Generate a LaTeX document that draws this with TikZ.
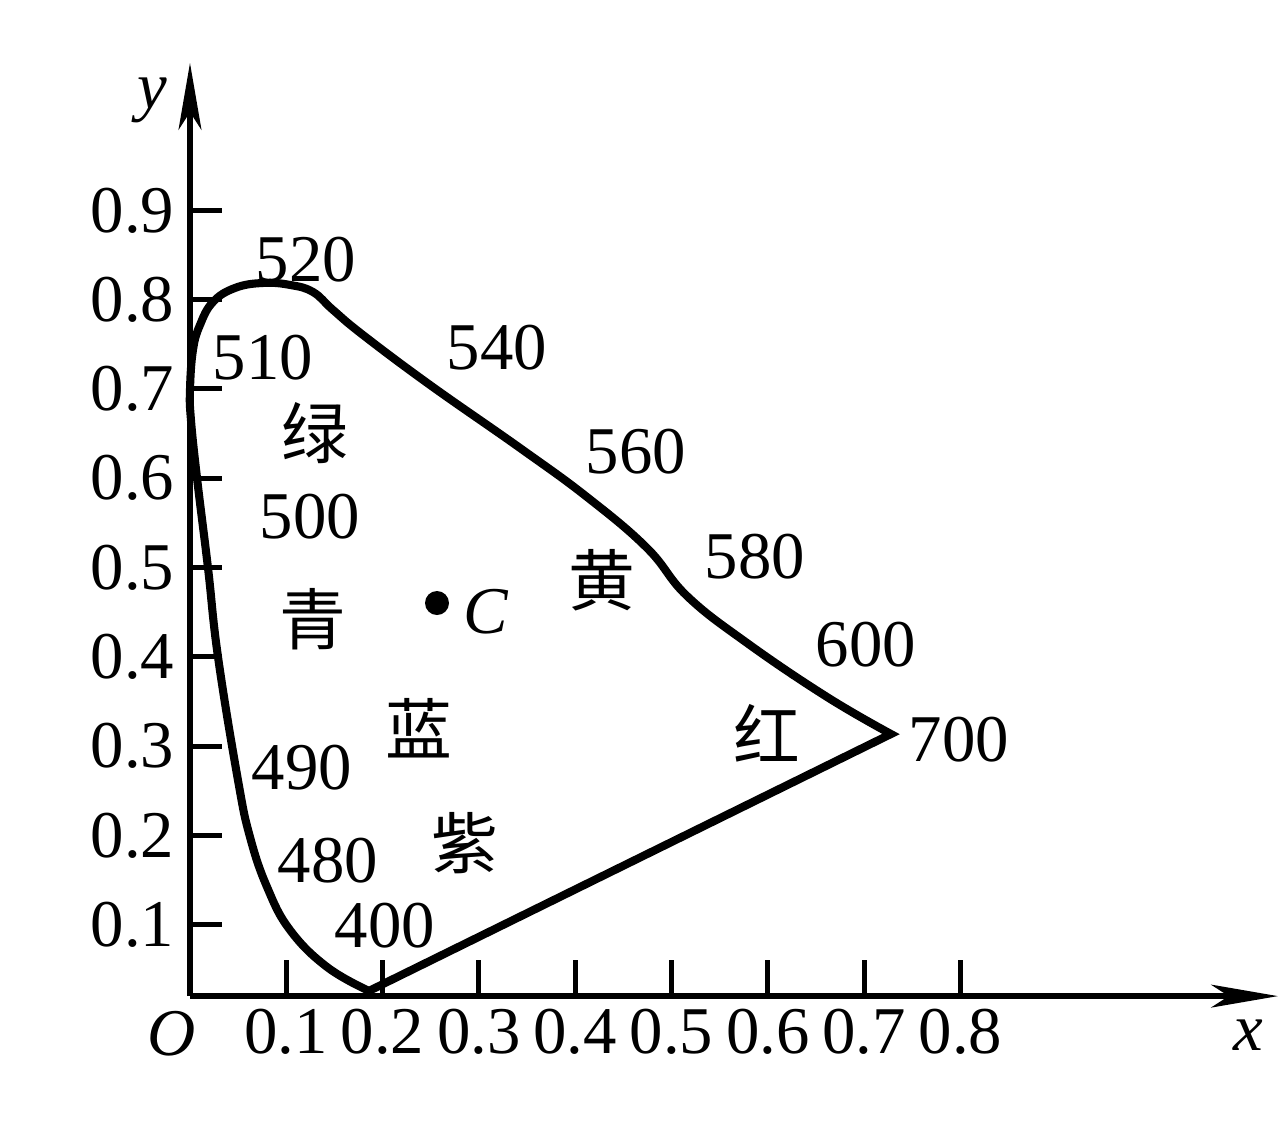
\documentclass[tikz,border=0pt]{standalone}
\usepackage{fontspec}
\setmainfont{Liberation Serif}
\newfontfamily\cjk{Noto Sans CJK SC}
\usepackage{tikz}
\usetikzlibrary{arrows.meta}
\usetikzlibrary{positioning}

\begin{document}
\begin{tikzpicture}[
  x=9.63cm, y=8.93cm,
  font=\fontsize{19}{22}\selectfont,
  axis/.style={line width=1.6pt, -{Stealth[length=19pt, width=6.5pt, inset=5pt]}},
  tck/.style={line width=1.4pt},
  locus/.style={line width=2.3pt, line join=miter},
  wl/.style={inner sep=0pt},
  hue/.style={inner sep=0pt, font=\fontsize{19}{22}\selectfont\cjk},
]

\useasboundingbox (-0.1973,-0.14) rectangle (1.1319,1.1355);

% axes
\draw [axis] (0,0.02) -- (1.1298,0.02);
\draw [axis] (0,0.02) -- (0,1.065);
\node [wl] (xlab) at (1.0987,-0.0235) {\textit{x}};
\node [wl] (ylab) at (-0.0395,1.0235) {\textit{y}};
\node [wl] (olab) at (-0.0187,-0.0224) {\textit{O}};

\foreach \k in {1,...,8} {
  \draw [tck] (\k/10,0.02) -- (\k/10,0.06);
  \node [wl] (xt\k) at (\k/10,-0.0202) {0.\k};
}
\foreach \k in {1,...,9} {
  \draw [tck] (0,\k/10) -- (0.033,\k/10);
  \node [wl, anchor=east] (yt\k) at (-0.0155,\k/10) {0.\k};
}

% spectrum locus
\draw [locus] plot [smooth, tension=0.7] coordinates {
  (0.1859,0.0258) (0.1423,0.0526) (0.1038,0.0941) (0.0800,0.1422)
  (0.0623,0.1982) (0.0498,0.2620) (0.0291,0.3998) (0.0187,0.4994)
  (0.0073,0.6002) (0.0010,0.6652) (0.0000,0.6988) (0.0031,0.7436)
  (0.0104,0.7716) (0.0239,0.7973) (0.0467,0.8130) (0.0758,0.8186)
  (0.1038,0.8164) (0.1277,0.8085) (0.1485,0.7884)
  (0.1796,0.7604) (0.2492,0.7044) (0.3427,0.6338) (0.4123,0.5789)
  (0.4746,0.5218) (0.5161,0.4681) (0.5784,0.4155) (0.6615,0.3550)
  (0.7279,0.3135)
} -- cycle;

% wavelengths
\node [wl] (w400) at (0.2025,0.0985) {400};
\node [wl] (w480) at (0.1433,0.1713) {480};
\node [wl] (w490) at (0.1163,0.2755) {490};
\node [wl] (w500) at (0.1246,0.5566) {500};
\node [wl] (w510) at (0.0758,0.7346) {510};
\node [wl] (w520) at (0.1205,0.8443) {520};
\node [wl] (w540) at (0.3188,0.7458) {540};
\node [wl] (w560) at (0.4631,0.6293) {560};
\node [wl] (w580) at (0.5867,0.5118) {580};
\node [wl] (w600) at (0.7020,0.4132) {600};
\node [wl] (w700) at (0.7985,0.3068) {700};

% colour regions
\node [hue] (lv) at (0.1298,0.6506) {绿};
\node [hue] (qing) at (0.1277,0.4423) {青};
\node [hue] (lan) at (0.2378,0.3203) {蓝};
\node [hue] (zi) at (0.2856,0.1915) {紫};
\node [hue] (huang) at (0.4278,0.4860) {黄};
\node [hue] (hong) at (0.5992,0.3147) {红};

% white point
\node [circle, fill, inner sep=0pt, minimum size=0.24cm] (cpt) at (0.2565,0.4602) {};
\node [wl, right=0.13cm of cpt, yshift=-0.09cm] (clab) {\textit{C}};

\end{tikzpicture}
\end{document}
